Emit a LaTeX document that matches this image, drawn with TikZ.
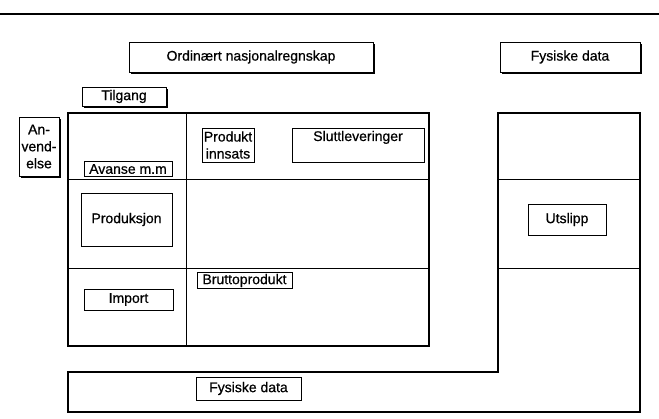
\documentclass[tikz,border=0pt]{standalone}
\usepackage{fontspec}
\setmainfont[FakeBold=0.6]{Liberation Sans}
\usetikzlibrary{shadows}
\tikzset{
  lbl/.style={draw=black, line width=0.7pt, fill=white, inner sep=0pt, align=center,
    font=\fontsize{14}{17}\selectfont},
  shbox/.style={lbl, drop shadow={shadow xshift=1.8pt, shadow yshift=-1.8pt, fill=black, opacity=1}},
  thick border/.style={line width=2.2pt},
  thin divider/.style={line width=0.8pt},
}
\begin{document}
\begin{tikzpicture}[x=1pt, y=-1pt]
\useasboundingbox (0,0) rectangle (659,418);
% top rule
\draw[line width=1.6pt] (0,14) -- (659,14);
% main table
\draw[thin divider] (186,113) -- (186,346);
\draw[thin divider] (68,179) -- (429,179);
\draw[thin divider] (68,268) -- (429,268);
\draw[thick border] (68,113) rectangle (429,346);
% right column + L shape
\draw[thin divider] (498,179) -- (640,179);
\draw[thin divider] (498,268) -- (640,268);
\draw[thick border, line join=miter] (498,113) -- (640,113) -- (640,412) -- (68,412) -- (68,372) -- (498,372) -- cycle;
% shadowed headings
\node[shbox, minimum width=244pt, minimum height=30pt] (ordn) at (251,57) {Ordinært nasjonalregnskap};
\node[shbox, minimum width=140pt, minimum height=30pt] (fystop) at (570,57) {Fysiske data};
\node[shbox, minimum width=84pt, minimum height=19pt] (tilg) at (124,96.5) {Tilgang};
\node[shbox, minimum width=40pt, minimum height=59pt] (anv) at (39,146.5) {An-\\vend-\\else};
% inner boxes
\node[lbl, minimum width=52pt, minimum height=34pt] (prodinn) at (228,145) {Produkt\\innsats};
\node[lbl, minimum width=132pt, minimum height=34pt] (slutbox) at (358,145) {};
\node[font=\fontsize{14}{17}\selectfont, anchor=north, inner sep=0pt] (slut) at ([yshift=-3pt]slutbox.north) {Sluttleveringer};
\node[lbl, minimum width=88pt, minimum height=15pt] (avanse) at (128,169) {Avanse m.m};
\node[lbl, minimum width=91pt, minimum height=53pt] (prodsj) at (126.5,219.5) {Produksjon};
\node[lbl, minimum width=89pt, minimum height=21pt] (import) at (128.5,299.5) {Import};
\node[lbl, minimum width=95pt, minimum height=16pt] (brutto) at (244.5,280.5) {Bruttoprodukt};
\node[lbl, minimum width=78pt, minimum height=31pt] (utslipp) at (567,219.5) {Utslipp};
\node[lbl, minimum width=105pt, minimum height=23pt] (fysbot) at (248.5,388.5) {Fysiske data};
\end{tikzpicture}
\end{document}
